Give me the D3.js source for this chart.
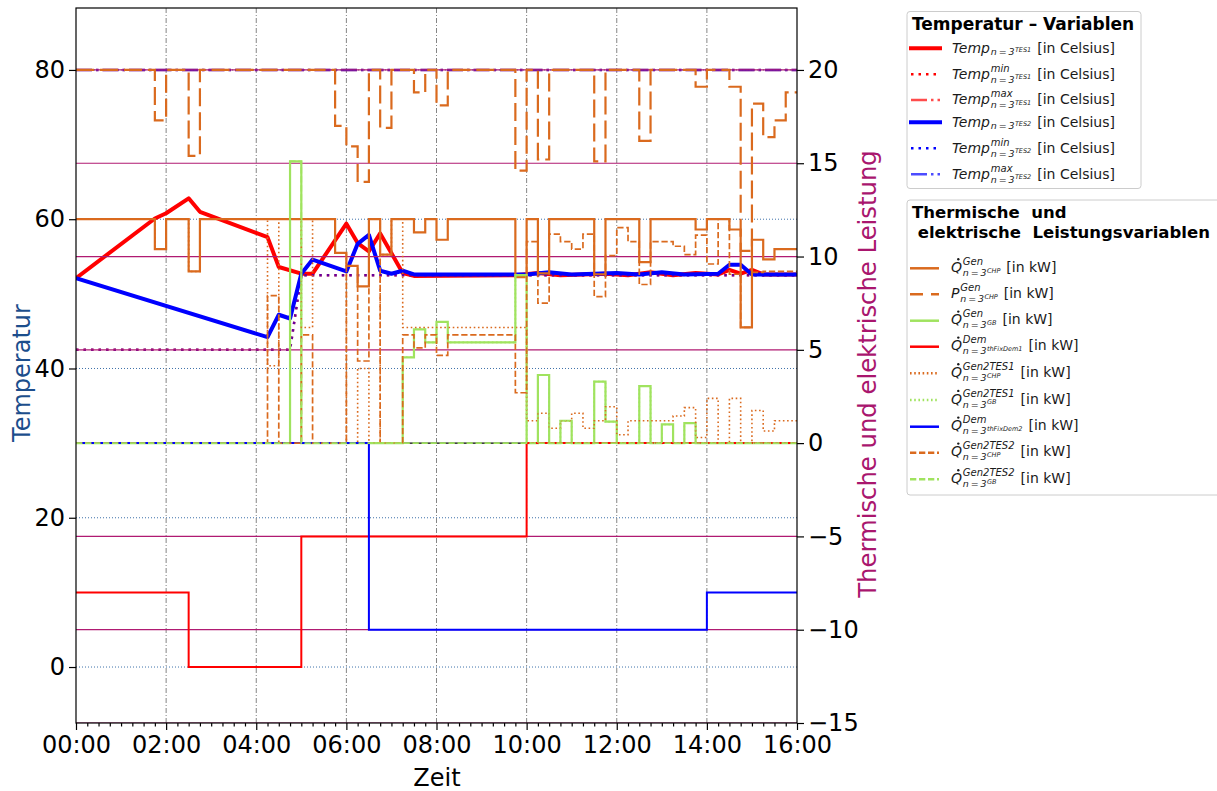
<!DOCTYPE html>
<html>
<head>
<meta charset="utf-8">
<script src="https://cdn.jsdelivr.net/npm/d3@7/dist/d3.min.js"></script>
<style>
  body { margin: 0; background: #fff; }
  text { font-family: "DejaVu Sans", sans-serif; }
</style>
</head>
<body>
<svg id="chart" width="1217" height="791"></svg>
<script>
// axis ticks
var xTickPos = [0, 2, 4, 6, 8, 10, 12, 14, 16];
var xTickLabels = ["00:00", "02:00", "04:00", "06:00", "08:00", "10:00", "12:00", "14:00", "16:00"];
var leftTicks = [0, 20, 40, 60, 80];
var rightTicks = [-15, -10, -5, 0, 5, 10, 15, 20];

// temperatures (hours, degC)
var tes1Time = [0, 1.75, 2, 2.5, 2.75, 4.25, 4.5, 5, 5.25, 6, 6.25, 6.5, 6.75, 7.25, 7.5, 9.75, 10.25, 10.75, 11.75, 12.25, 12.75, 13.25, 13.75, 14.25, 14.5, 14.75, 15, 15.25, 16];
var tes1Temp = [52.1, 60.1, 60.8, 62.8, 61.0, 57.6, 53.6, 52.7, 52.7, 59.4, 56.8, 55.7, 58.1, 52.8, 52.4, 52.5, 52.8, 52.5, 52.7, 52.5, 52.9, 52.5, 52.8, 52.6, 53.2, 52.7, 53.2, 52.6, 52.6];
var tes2Time = [0, 4.25, 4.5, 4.75, 5, 5.25, 6, 6.25, 6.5, 6.75, 7, 7.25, 7.5, 10, 10.5, 11, 12, 12.5, 13, 13.5, 14.25, 14.5, 14.75, 15, 16];
var tes2Temp = [52.1, 44.2, 47.2, 46.7, 52.7, 54.6, 53.0, 56.7, 57.9, 53.1, 52.7, 53.1, 52.6, 52.6, 52.9, 52.6, 52.8, 52.6, 52.9, 52.6, 52.7, 53.9, 53.9, 52.6, 52.6];
var minTime = [0, 4.75, 5, 16];
var tes1Min = [42.5, 42.5, 52.5, 52.5];
var tes2Min = [42.5, 42.5, 52.5, 52.5];
var maxTime = [0, 16];
var tes1Max = [80, 80];
var tes2Max = [80, 80];

// power per 15 min slot (kW), 64 slots
var qGenChp = [12,12,12,12,12,12,12,10.4,12,12, 9.2,12,12,12,12,12,12,12,12,12, 12,12,12,10.2,9.5,8.4,12,10.1,12,12,
  11.3,12,10.9,12,12,12,12,12,12,8.9, 12,9.1,12,12,12,12,9.05,12,12,12, 9.7,12,12,12,12,11.45,12,12,11.45,6.2, 10.9,9.85,10.4,10.4];
var pGenChp = [20,20,20,20,20,20,20,17.3,20,20, 15.4,20,20,20,20,20,20,20,20,20, 20,20,20,17.0,15.9,14.0,20,16.9,20,20,
  18.8,20,18.1,20,20,20,20,20,20,14.6, 20,15.2,20,20,20,20,15.1,20,20,20, 16.2,20,20,20,20,19.1,20,20,19.1,10.3, 18.2,16.4,17.3,18.8];
var qGenGb = [0,0,0,0,0,0,0,0,0,0, 0,0,0,0,0,0,0,0,0,15.1, 0,0,0,0,0,0,0,0,0,4.6,
  6.1,5.4,6.5,5.4,5.4,5.4,5.4,5.4,5.4,9.0, 0,3.65,0,1.2,0,0,3.3,1.15,0,0, 3.05,0,1.0,0,1.07,0,0,0,0,0, 0,0,0,0];
var qDem1 = [-8,-8,-8,-8,-8,-8,-8,-8,-8,-8, -12,-12,-12,-12,-12,-12,-12,-12,-12,-12, -5,-5,-5,-5,-5,-5,-5,-5,-5,-5,
  -5,-5,-5,-5,-5,-5,-5,-5,-5,-5, 0,0,0,0,0,0,0,0,0,0, 0,0,0,0,0,0,0,0,0,0, 0,0,0,0];
var qTes1Chp = [12,12,12,12,12,12,12,10.4,12,12, 9.2,12,12,12,12,12,12,4.15,12,12, 6.2,12,12,10.2,0,4.0,0,10.1,12,6.2,
  6.2,6.2,6.2,6.2,6.2,6.2,6.2,6.2,6.2,6.2, 1.2,1.6,0.8,1.2,1.6,0.8,1.2,1.95,0.45,1.2, 1.2,1.2,1.2,1.45,1.9,0.3,2.4,0,2.4,0, 1.75,0.65,1.2,1.2];
var qTes1Gb = [0,0,0,0,0,0,0,0,0,0, 0,0,0,0,0,0,0,0,0,0, 0,0,0,0,0,0,0,0,0,4.6,
  6.1,5.4,6.5,5.4,5.4,5.4,5.4,5.4,5.4,9.0, 0,3.65,0,1.2,0,0,3.3,1.15,0,0, 3.05,0,1.0,0,1.07,0,0,0,0,0, 0,0,0,0];
var qDem2 = [0,0,0,0,0,0,0,0,0,0, 0,0,0,0,0,0,0,0,0,0, 0,0,0,0,0,0,-10,-10,-10,-10,
  -10,-10,-10,-10,-10,-10,-10,-10,-10,-10, -10,-10,-10,-10,-10,-10,-10,-10,-10,-10, -10,-10,-10,-10,-10,-10,-8,-8,-8,-8, -8,-8,-8,-8];
var qTes2Chp = [0,0,0,0,0,0,0,0,0,0, 0,0,0,0,0,0,0,7.9,0,0, 5.8,0,0,0,9.5,4.4,12,0,0,5.8,
  5.1,5.8,4.7,5.8,5.8,5.8,5.8,5.8,5.8,2.7, 10.8,7.5,11.2,10.8,10.4,11.2,7.85,10.05,11.55,10.8, 8.5,10.8,10.8,10.55,10.1,11.15,9.6,12,9.05,6.2, 9.15,9.2,9.2,9.2];
var qTes2Gb = [0,0,0,0,0,0,0,0,0,0, 0,0,0,0,0,0,0,0,0,15.1, 0,0,0,0,0,0,0,0,0,0,
  0,0,0,0,0,0,0,0,0,0, 0,0,0,0,0,0,0,0,0,0, 0,0,0,0,0,0,0,0,0,0, 0,0,0,0];

// legend texts
var tempLegend = [
  { base: "Temp", sup: null, subsup: "TES1" },
  { base: "Temp", sup: "min", subsup: "TES1" },
  { base: "Temp", sup: "max", subsup: "TES1" },
  { base: "Temp", sup: null, subsup: "TES2" },
  { base: "Temp", sup: "min", subsup: "TES2" },
  { base: "Temp", sup: "max", subsup: "TES2" }
];
var powerLegend = [
  { base: "Q", dot: true, sup: "Gen", subsup: "CHP" },
  { base: "P", dot: false, sup: "Gen", subsup: "CHP" },
  { base: "Q", dot: true, sup: "Gen", subsup: "GB" },
  { base: "Q", dot: true, sup: "Dem", subsup: "thFixDem1" },
  { base: "Q", dot: true, sup: "Gen2TES1", subsup: "CHP" },
  { base: "Q", dot: true, sup: "Gen2TES1", subsup: "GB" },
  { base: "Q", dot: true, sup: "Dem", subsup: "thFixDem2" },
  { base: "Q", dot: true, sup: "Gen2TES2", subsup: "CHP" },
  { base: "Q", dot: true, sup: "Gen2TES2", subsup: "GB" }
];

(function () {
  var orange = "#da6a1e", green = "#a0e35f", magenta = "#b01a72";

  var svg = d3.select("#chart");
  var pL = 76, pR = 797, pT = 8, pB = 723;

  var x = d3.scaleLinear().domain([0, 16]).range([pL, pR]);
  var yT = d3.scaleLinear().domain([-7.5, 88.3]).range([pB, pT]);
  var yP = d3.scaleLinear().domain([-15, 23.32]).range([pB, pT]);

  svg.append("defs").append("clipPath").attr("id", "plotclip").append("rect")
    .attr("x", pL).attr("y", pT).attr("width", pR - pL).attr("height", pB - pT);
  var plot = svg.append("g").attr("clip-path", "url(#plotclip)");

  // grid of left axis
  plot.selectAll(".gridT").data(leftTicks).enter().append("line")
    .attr("x1", pL).attr("x2", pR)
    .attr("y1", function (d) { return yT(d); }).attr("y2", function (d) { return yT(d); })
    .attr("stroke", "#3f72aa").attr("stroke-width", 1).attr("stroke-dasharray", "1,2");
  plot.selectAll(".gridX").data(xTickPos.slice(1, -1)).enter().append("line")
    .attr("x1", function (d) { return x(d); }).attr("x2", function (d) { return x(d); })
    .attr("y1", pT).attr("y2", pB)
    .attr("stroke", "#858585").attr("stroke-width", 1).attr("stroke-dasharray", "5,2,1,2");

  // temperature lines
  function tempPath(times, vals) {
    return d3.line().x(function (d, i) { return x(times[i]); }).y(function (d) { return yT(d); })(vals);
  }
  var tempStyles = [
    { t: tes1Time, v: tes1Temp, c: "#ff0000", w: 4, dash: null, op: 1 },
    { t: minTime, v: tes1Min, c: "#ff0000", w: 2.5, dash: "2.5,5", op: 1 },
    { t: maxTime, v: tes1Max, c: "#ff0000", w: 2.5, dash: "16,4,2.5,4", op: 0.7 },
    { t: tes2Time, v: tes2Temp, c: "#0000ff", w: 4, dash: null, op: 1 },
    { t: minTime, v: tes2Min, c: "#0000ff", w: 2.5, dash: "2.5,5", op: 0.6 },
    { t: maxTime, v: tes2Max, c: "#0000ff", w: 2.5, dash: "16,4,2.5,4", op: 0.7 }
  ];
  tempStyles.forEach(function (s) {
    plot.append("path").attr("d", tempPath(s.t, s.v))
      .attr("fill", "none").attr("stroke", s.c).attr("stroke-width", s.w)
      .attr("stroke-opacity", s.op).attr("stroke-linejoin", "round")
      .attr("stroke-dasharray", s.dash);
  });

  // grid of right axis
  plot.selectAll(".gridP").data(rightTicks).enter().append("line")
    .attr("x1", pL).attr("x2", pR)
    .attr("y1", function (d) { return yP(d); }).attr("y2", function (d) { return yP(d); })
    .attr("stroke", function (d) { return d === 0 ? "#000" : magenta; })
    .attr("stroke-width", function (d) { return d === 0 ? 1.3 : 1.2; });

  // power step lines
  var slots = d3.range(65).map(function (i) { return i * 0.25; });
  function stepPath(vals) {
    var pts = vals.concat([vals[vals.length - 1]]);
    return d3.line().x(function (d, i) { return x(slots[i]); }).y(function (d) { return yP(d); })
      .curve(d3.curveStepAfter)(pts);
  }
  var powerStyles = [
    { v: qGenChp, c: orange, w: 2.2, dash: null },
    { v: pGenChp, c: orange, w: 2.2, dash: "18,6" },
    { v: qGenGb, c: green, w: 2.2, dash: null },
    { v: qDem1, c: "#ff0000", w: 2, dash: null },
    { v: qTes1Chp, c: orange, w: 1.6, dash: "1.6,2.6" },
    { v: qTes1Gb, c: green, w: 1.6, dash: "1.6,2.6" },
    { v: qDem2, c: "#0000ff", w: 2, dash: null },
    { v: qTes2Chp, c: orange, w: 1.7, dash: "6.3,2.7" },
    { v: qTes2Gb, c: green, w: 1.7, dash: "6.3,2.7" }
  ];
  powerStyles.forEach(function (s) {
    plot.append("path").attr("d", stepPath(s.v))
      .attr("fill", "none").attr("stroke", s.c).attr("stroke-width", s.w)
      .attr("stroke-dasharray", s.dash);
  });

  // frame
  svg.append("rect").attr("x", pL).attr("y", pT).attr("width", pR - pL).attr("height", pB - pT)
    .attr("fill", "none").attr("stroke", "#000").attr("stroke-width", 1.2);

  // axes
  var gx = svg.append("g").attr("transform", "translate(0," + pB + ")")
    .call(d3.axisBottom(x).tickValues(xTickPos).tickFormat(function (d, i) { return xTickLabels[i]; })
      .tickSize(7).tickPadding(6));
  var minorPos = slots.filter(function (d) { return xTickPos.indexOf(d) < 0; });
  var gxm = svg.append("g").attr("transform", "translate(0," + pB + ")")
    .call(d3.axisBottom(x).tickValues(minorPos).tickFormat("").tickSize(3.5));
  var gl = svg.append("g").attr("transform", "translate(" + pL + ",0)")
    .call(d3.axisLeft(yT).tickValues(leftTicks).tickSize(7).tickPadding(4));
  var gr = svg.append("g").attr("transform", "translate(" + pR + ",0)")
    .call(d3.axisRight(yP).tickValues(rightTicks).tickSize(7).tickPadding(4)
      .tickFormat(function (d) { return d < 0 ? "\u2212" + Math.abs(d) : d; }));
  [gx, gxm, gl, gr].forEach(function (g) {
    g.select(".domain").remove();
    g.selectAll("line").attr("stroke", "#000").attr("stroke-width", 1.2);
    g.selectAll("text").attr("font-size", 24).attr("fill", "#000");
  });

  // axis titles
  svg.append("text").attr("x", 437).attr("y", 786).attr("text-anchor", "middle")
    .attr("font-size", 24).text("Zeit");
  svg.append("text").attr("transform", "translate(30,373) rotate(-90)").attr("text-anchor", "middle")
    .attr("font-size", 24).attr("fill", "#1c4e8c").text("Temperatur");
  svg.append("text").attr("transform", "translate(876,374) rotate(-90)").attr("text-anchor", "middle")
    .attr("font-size", 24.3).attr("fill", "#a9166e").text("Thermische und elektrische Leistung");

  // legend label with math style
  function mathLabel(g, x0, y0, m, tail) {
    var t = g.append("text").attr("x", x0).attr("y", y0).attr("font-size", 14).attr("fill", "#1a1a1a");
    var b = t.append("tspan").attr("font-style", "italic").text(m.base);
    var wb = b.node().getComputedTextLength();
    if (m.dot) {
      g.append("circle").attr("cx", x0 + 7.3).attr("cy", y0 - 12.6).attr("r", 1.2).attr("fill", "#1a1a1a");
    }
    var xs = x0 + wb + 0.8;
    var end = xs;
    var hasSup = !!m.sup;
    if (hasSup) {
      var s = t.append("tspan").attr("x", xs).attr("y", y0 - 7).attr("font-size", 10)
        .attr("font-style", "italic").text(m.sup);
      end = xs + s.node().getComputedTextLength();
    }
    var sb = t.append("tspan").attr("x", xs).attr("y", y0 + (hasSup ? 4 : 2.5)).attr("font-size", 9.5)
      .attr("font-style", "italic").text("n\u2009=\u20093");
    var xe = xs + sb.node().getComputedTextLength() + 0.3;
    var ss = t.append("tspan").attr("x", xe).attr("y", y0 + (hasSup ? 0.8 : -1)).attr("font-size", 6.5)
      .attr("font-style", "italic").text(m.subsup);
    end = Math.max(end, xe + ss.node().getComputedTextLength());
    t.append("tspan").attr("x", end + 6).attr("y", y0).text(tail);
  }

  // legend 1
  var lg1 = svg.append("g");
  lg1.append("rect").attr("x", 907).attr("y", 11.5).attr("width", 234).attr("height", 177).attr("rx", 3)
    .attr("fill", "#fff").attr("stroke", "#cccccc");
  lg1.append("text").attr("x", 912).attr("y", 30).attr("font-size", 17).attr("font-weight", "bold")
    .text("Temperatur \u2013 Variablen");
  var lg1Handle = [48.3, 74.3, 100, 122.3, 148.3, 174.3];
  tempStyles.forEach(function (s, i) {
    lg1.append("line").attr("x1", 911).attr("x2", 940)
      .attr("y1", lg1Handle[i]).attr("y2", lg1Handle[i])
      .attr("stroke", s.c).attr("stroke-width", s.w).attr("stroke-opacity", s.op < 1 && s.dash.length > 6 ? 0.7 : 1)
      .attr("stroke-linecap", s.dash ? "butt" : "square").attr("stroke-dasharray", s.dash);
    mathLabel(lg1, 952, lg1Handle[i] + 4.2, tempLegend[i], "[in Celsius]");
  });

  // legend 2
  var lg2 = svg.append("g");
  lg2.append("rect").attr("x", 907).attr("y", 200).attr("width", 330).attr("height", 295).attr("rx", 3)
    .attr("fill", "#fff").attr("stroke", "#cccccc");
  lg2.append("text").attr("x", 912).attr("y", 218.3).attr("font-size", 16.5).attr("font-weight", "bold")
    .style("white-space", "pre").text("Thermische  und");
  lg2.append("text").attr("x", 912).attr("y", 238.3).attr("font-size", 16.5).attr("font-weight", "bold")
    .style("white-space", "pre").text(" elektrische  Leistungsvariablen");
  var lg2Handle = [268.3, 294.3, 320.7, 346.7, 373.3, 400, 426.7, 452.7, 479.3];
  powerStyles.forEach(function (s, i) {
    var dash = s.dash === "18,6" ? "13,8" : s.dash;
    lg2.append("line").attr("x1", 910).attr("x2", 939)
      .attr("y1", lg2Handle[i]).attr("y2", lg2Handle[i])
      .attr("stroke", s.c).attr("stroke-width", 2.5).attr("stroke-dasharray", dash);
    mathLabel(lg2, 951, lg2Handle[i] + 3.5, powerLegend[i], "[in kW]");
  });
})();
</script>
</body>
</html>
